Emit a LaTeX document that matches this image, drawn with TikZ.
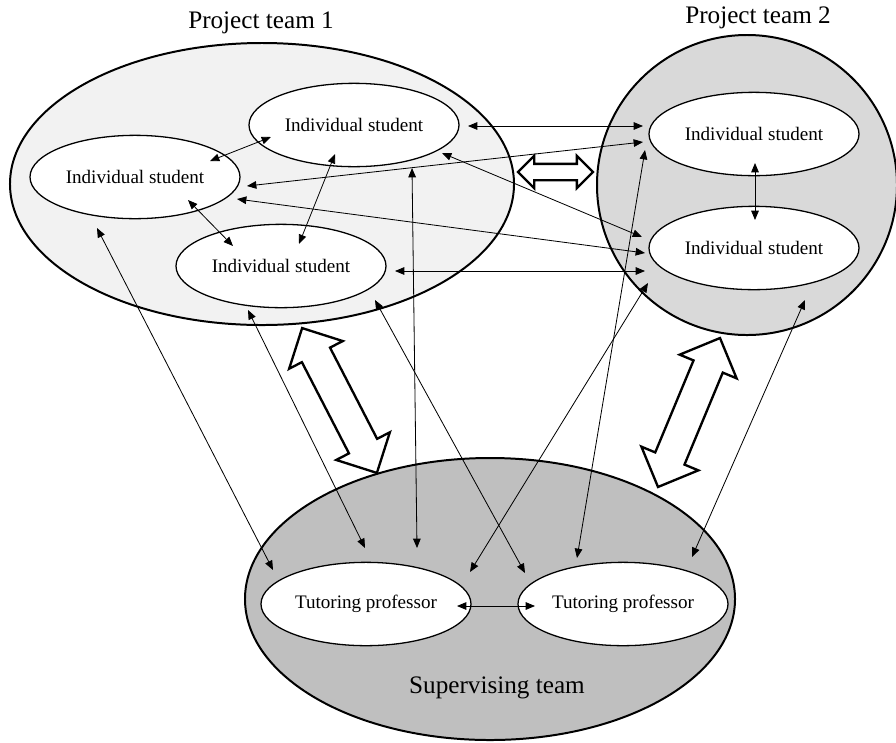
\documentclass[tikz,border=0pt]{standalone}
\usepackage{fontspec}
\setmainfont{Liberation Serif}
\usetikzlibrary{positioning, arrows.meta, shapes.geometric, shapes.arrows, calc}

\begin{document}
\begin{tikzpicture}[x=0.03cm, y=-0.03cm,
  team/.style={draw=black, line width=1.7pt, ellipse, inner sep=0pt},
  stud/.style={draw=black, fill=white, line width=1.1pt, ellipse, inner sep=0pt,
    minimum width=6.3cm, minimum height=2.5cm, font=\fontsize{16.3}{19}\selectfont},
  lbl/.style={font=\fontsize{21.5}{25}\selectfont, inner sep=0pt},
  lnk/.style={line width=0.7pt, {Triangle[length=8pt, width=6.5pt]}-{Triangle[length=8pt, width=6.5pt]}},
  fat/.style={draw=black, fill=white, line width=2pt, double arrow, double arrow tip angle=90,
    inner xsep=0pt, minimum width=0pt},
]
  \useasboundingbox (0,0) rectangle (896,742);

  % Teams
  \node[team, fill=gray!10, minimum width=15.12cm, minimum height=8.46cm] (team1) at (262,184) {};
  \node[team, fill=gray!30, circle, minimum size=9cm] (team2) at (747,185) {};
  \node[team, fill=gray!50, minimum width=14.7cm, minimum height=8.46cm] (sup) at (490,599) {};
  \node[lbl] (lteam1) at (261,23) {Project team 1};
  \node[lbl] (lteam2) at (758,18) {Project team 2};
  \node[lbl] (lsup) at (497,688) {Supervising team};

  % Students and professors
  \node[stud] (s1) at (354,125) {Individual student};
  \node[stud] (s2) at (135,177) {Individual student};
  \node[stud] (s3) at (281,266) {Individual student};
  \node[stud] (t1) at (754,134) {Individual student};
  \node[stud] (t2) at (754,248) {Individual student};
  \node[stud] (p1) at (366,604) {Tutoring professor};
  \node[stud] (p2) at (623,604) {Tutoring professor};

  % Big arrows between the teams
  \node[fat, rotate=117.3, minimum height=4.89cm, inner ysep=0.44cm, double arrow head extend=0.43cm] (fat1) at (339.5,400.5) {};
  \node[fat, rotate=67.4, minimum height=4.84cm, inner ysep=0.44cm, double arrow head extend=0.45cm] (fat2) at (689,412.5) {};
  \node[fat, minimum height=2.25cm, inner ysep=0.21cm, double arrow head extend=0.24cm] (fat3) at (555.5,172) {};

  % Inside project team 1
  \draw[lnk] ($(s1)+(-83,12)$) -- ($(s2)+(75,-16)$);
  \draw[lnk] ($(s1)+(-19,29)$) -- ($(s3)+(18,-22)$);
  \draw[lnk] ($(s2)+(53,23)$) -- ($(s3)+(-48,-20)$);

  % Team 1 to team 2
  \draw[lnk] ($(s1)+(114,1)$) -- ($(t1)+(-111,-8)$);
  \draw[lnk] ($(s2)+(112,9)$) -- ($(t1)+(-111,8)$);
  \draw[lnk] ($(s1)+(88,28)$) -- ($(t2)+(-112,-11)$);
  \draw[lnk] ($(s2)+(102,22)$) -- ($(t2)+(-109,5)$);
  \draw[lnk] ($(s3)+(114,5)$) -- ($(t2)+(-109,23)$);
  \draw[lnk] ($(t1)+(1,29)$) -- ($(t2)+(1,-28)$);

  % Students to professors
  \draw[lnk] ($(t1)+(-109,16)$) -- ($(p2)+(-46,-46)$);
  \draw[lnk] ($(t2)+(-106,35)$) -- ($(p1)+(104,-32)$);
  \draw[lnk] ($(t2)+(51,52)$) -- ($(p2)+(69,-47)$);
  \draw[lnk] ($(s2)+(-38,51)$) -- ($(p1)+(-93,-34)$);
  \draw[lnk] ($(s3)+(-33,44)$) -- ($(p1)+(-1,-56)$);
  \draw[lnk] ($(s1)+(58,43)$) -- ($(p1)+(51,-56)$);
  \draw[lnk] ($(s3)+(94,34)$) -- ($(p2)+(-98,-31)$);
  \draw[lnk] ($(p1)+(91,2)$) -- ($(p2)+(-88,2)$);
\end{tikzpicture}
\end{document}
